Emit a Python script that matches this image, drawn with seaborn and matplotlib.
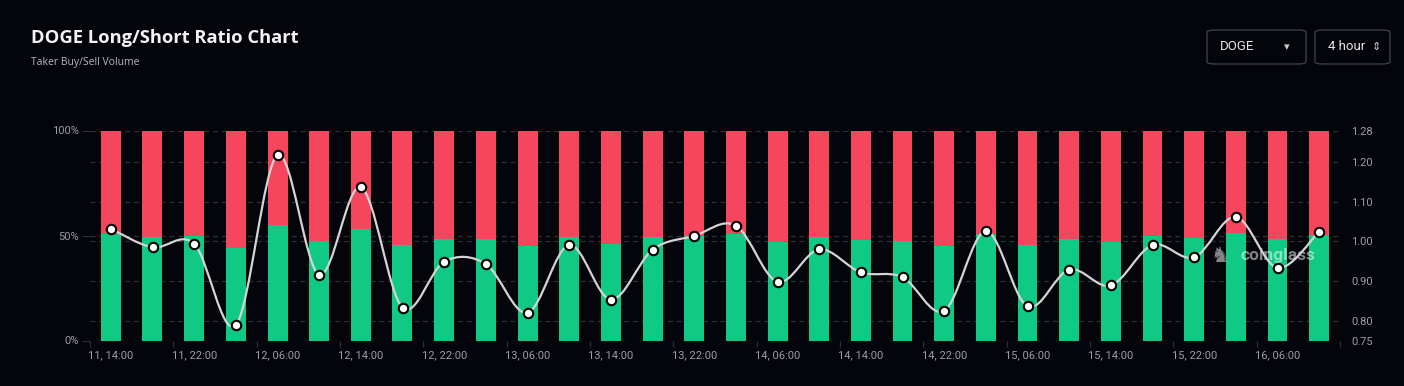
import numpy as np
import pandas as pd
import seaborn as sns
import matplotlib.pyplot as plt
from matplotlib.path import Path
from matplotlib.patches import PathPatch, FancyBboxPatch

# 4 hour buckets, 11 14:00 -> 16 10:00
times = ['11, 14:00', '11, 18:00', '11, 22:00', '12, 02:00', '12, 06:00', '12, 10:00',
         '12, 14:00', '12, 18:00', '12, 22:00', '13, 02:00', '13, 06:00', '13, 10:00',
         '13, 14:00', '13, 18:00', '13, 22:00', '14, 02:00', '14, 06:00', '14, 10:00',
         '14, 14:00', '14, 18:00', '14, 22:00', '15, 02:00', '15, 06:00', '15, 10:00',
         '15, 14:00', '15, 18:00', '15, 22:00', '16, 02:00', '16, 06:00', '16, 10:00']
long_pct = [50.6, 49.5, 49.8, 44.0, 54.8, 47.6, 53.0, 45.3, 48.4, 48.3,
            44.9, 49.5, 45.8, 49.1, 50.0, 50.9, 47.0, 49.3, 47.9, 47.5,
            45.2, 50.7, 45.3, 48.1, 47.0, 49.6, 49.0, 51.4, 48.2, 50.4]
ratio = [1.032, 0.985, 0.994, 0.789, 1.218, 0.916, 1.137, 0.833, 0.949, 0.943,
         0.820, 0.991, 0.853, 0.979, 1.014, 1.040, 0.898, 0.980, 0.922, 0.910,
         0.825, 1.026, 0.836, 0.929, 0.889, 0.991, 0.960, 1.062, 0.933, 1.025]
ratio_ticks = [0.75, 0.80, 0.90, 1.00, 1.10, 1.20, 1.28]
pct_ticks = [0, 50, 100]

BG = '#04050a'
GREEN = '#10c985'
RED = '#f6465d'
GRID = '#2c2f36'
TXT = '#9b9ea4'

df = pd.DataFrame({'time': times, 'long': long_pct, 'ratio': ratio, 'total': 100})

plt.rcParams['font.family'] = ['Roboto', 'DejaVu Sans']
fig = plt.figure(figsize=(14.04, 3.86), dpi=100, facecolor=BG)
ax = fig.add_axes([90 / 1404, 45.5 / 386, 1250 / 1404, 210 / 386])
ax.set_facecolor(BG)

# gridlines (right axis levels + 50%)
rmin, rmax = ratio_ticks[0], ratio_ticks[-1]
for r in ratio_ticks:
    ax.axhline((r - rmin) / (rmax - rmin) * 100, color=GRID, lw=0.9, ls=(0, (4, 3)), zorder=0)
ax.axhline(50, color=GRID, lw=0.9, ls=(0, (4, 3)), zorder=0)

sns.barplot(data=df, x='time', y='total', color=RED, width=0.48, ax=ax,
            saturation=1, zorder=2, linewidth=0)
sns.barplot(data=df, x='time', y='long', color=GREEN, width=0.48, ax=ax,
            saturation=1, zorder=3, linewidth=0)

n = len(times)
ax.set_xlim(-0.48, n - 0.5)
ax.set_ylim(0, 100)
ax.set_yticks(pct_ticks)
ax.set_yticklabels([f'{p}%' for p in pct_ticks])
ax.set_xticks(range(0, n, 2))
ax.set_xticklabels(times[::2])
ax.set_xticks(np.arange(-0.5, n, 2), minor=True)
ax.tick_params(axis='x', which='major', length=0, colors=TXT, labelsize=8, pad=7)
ax.tick_params(axis='x', which='minor', length=4, color=GRID, width=0.9)
ax.tick_params(axis='y', length=6, color=GRID, colors=TXT, labelsize=8, pad=2)
ax.set_xlabel('')
ax.set_ylabel('')
for s in ax.spines.values():
    s.set_visible(False)

# right axis: long/short ratio
ax2 = ax.twinx()
ax2.set_ylim(rmin, rmax)
ax2.set_yticks(ratio_ticks)
ax2.set_yticklabels([f'{t:.2f}' for t in ratio_ticks])
ax2.tick_params(axis='y', length=0, colors=TXT, labelsize=8, pad=8)
for s in ax2.spines.values():
    s.set_visible(False)

# smooth curve through ratio points (bezier segments)
x = np.arange(n, dtype=float)
y = np.array(ratio)
verts = [(x[0], y[0])]
codes = [Path.MOVETO]
for i in range(n - 1):
    p0 = (x[max(i - 1, 0)], y[max(i - 1, 0)])
    p1 = (x[i], y[i])
    p2 = (x[i + 1], y[i + 1])
    p3 = (x[min(i + 2, n - 1)], y[min(i + 2, n - 1)])
    c1 = (p1[0] + (p2[0] - p0[0]) / 6, p1[1] + (p2[1] - p0[1]) / 6)
    c2 = (p2[0] - (p3[0] - p1[0]) / 6, p2[1] - (p3[1] - p1[1]) / 6)
    verts += [c1, c2, p2]
    codes += [Path.CURVE4] * 3
ax2.add_patch(PathPatch(Path(verts, codes), fill=False, edgecolor='#d4d4d4', lw=1.6, zorder=4))
sns.scatterplot(x=x, y=y, ax=ax2, s=46, color='white', edgecolor='black',
                linewidth=1.5, zorder=5)

# watermark
ax.text(0.95, 0.405, 'coinglass', transform=ax.transAxes, ha='center', va='center',
        fontsize=12.5, fontweight='bold', color='#ffffff', alpha=0.5, zorder=6)
ax.text(0.904, 0.40, '\u265e', transform=ax.transAxes, ha='center', va='center',
        fontsize=15, color='#b0b0b0', alpha=0.75, zorder=6, family=['DejaVu Sans'])

# header
fig.text(31 / 1404, 1 - 38 / 386, 'DOGE Long/Short Ratio Chart', fontsize=13.2,
         fontweight='bold', color='#f2f2f2', va='center', family=['Open Sans', 'DejaVu Sans'])
fig.text(31 / 1404, 1 - 63 / 386, 'Taker Buy/Sell Volume', fontsize=7.5,
         color='#b4b7bc', va='center', family=['Open Sans', 'DejaVu Sans'])

for (x0, w, label) in [(1207, 99, 'DOGE'), (1315, 75, '4 hour')]:
    fig.patches.append(FancyBboxPatch((x0 / 1404, 1 - 64 / 386), w / 1404, 34 / 386,
                                      boxstyle='round,pad=0,rounding_size=0.006',
                                      transform=fig.transFigure, facecolor=BG,
                                      edgecolor='#3b3e45', lw=1))
    fig.text((x0 + 13) / 1404, 1 - 47 / 386, label, fontsize=9.5, color='#e6e6e6', va='center')
fig.text(1287 / 1404, 1 - 47 / 386, '\u25be', fontsize=8, color='#cccccc', va='center', ha='center')
fig.text(1376 / 1404, 1 - 47 / 386, '\u21d5', fontsize=8, color='#cccccc', va='center', ha='center')

fig.savefig('out.png', dpi=100, facecolor=BG)
